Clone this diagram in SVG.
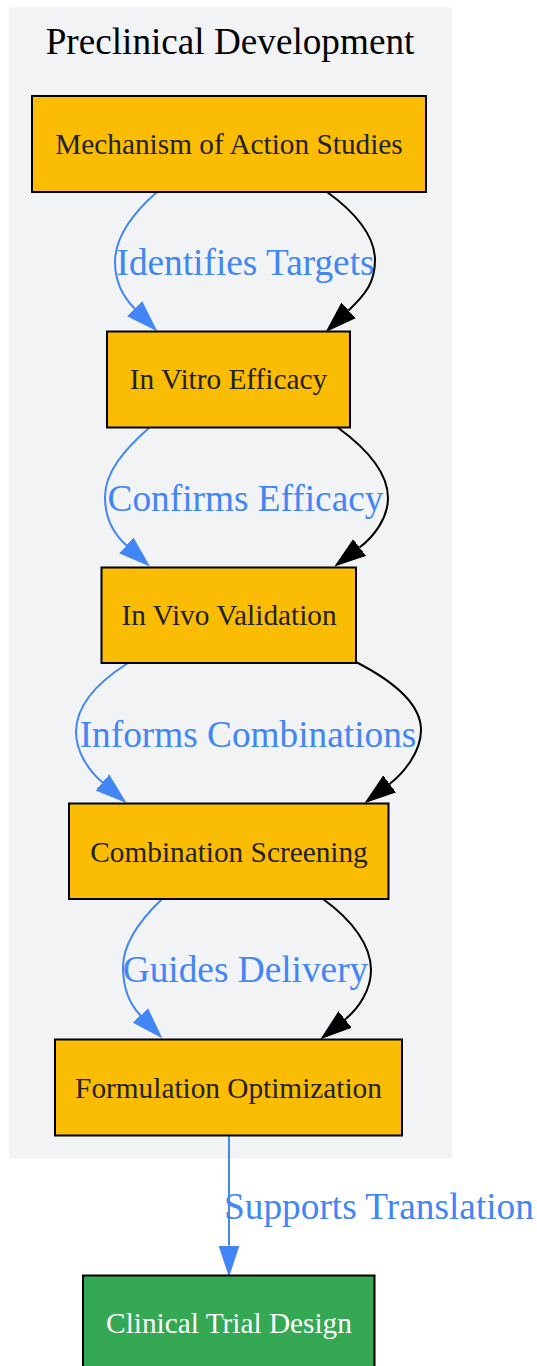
<svg xmlns="http://www.w3.org/2000/svg" width="537" height="1366" viewBox="0 0 537 1366">
<style>
.cluster{fill:#f1f3f4;stroke:none}
.title{font-family:"Liberation Serif","Times New Roman",serif;font-size:37.2px;fill:#000;text-anchor:middle}
.box{fill:#fbbc04;stroke:#000;stroke-width:2}
.green{fill:#34a853;stroke:#000;stroke-width:2}
.ntext{font-family:"Liberation Serif","Times New Roman",serif;font-size:29.3px;fill:#222;text-anchor:middle}
.wtext{font-family:"Liberation Serif","Times New Roman",serif;font-size:29.3px;fill:#fff;text-anchor:middle}
.eb{fill:none;stroke:#4285f4;stroke-width:2}
.ek{fill:none;stroke:#000;stroke-width:2}
.elabel{font-family:"Liberation Serif","Times New Roman",serif;font-size:37.3px;fill:#4285f4;text-anchor:middle}
</style>
<defs>
<marker id="ab" markerUnits="userSpaceOnUse" viewBox="0 0 32 22" markerWidth="32" markerHeight="22" refX="0" refY="11" orient="auto">
<path d="M0,1 L30,11 L0,21 z" fill="#4285f4" stroke="#4285f4" stroke-width="1"/>
</marker>
<marker id="ak" markerUnits="userSpaceOnUse" viewBox="0 0 32 22" markerWidth="32" markerHeight="22" refX="0" refY="11" orient="auto">
<path d="M0,1 L30,11 L0,21 z" fill="#000" stroke="#000" stroke-width="1"/>
</marker>
</defs>
<rect width="537" height="1366" fill="#fff"/>
<g id="cluster_preclinical">
<rect class="cluster" x="9" y="7.5" width="443" height="1151"/>
<text class="title" x="230" y="54">Preclinical Development</text>
</g>
<g id="edges">
<path class="eb" marker-end="url(#ab)" d="M157,192 C133,213 115,236 115,262 C115,284 124,298 135,309"/>
<path class="ek" marker-end="url(#ak)" d="M327,192 C355,212 375,236 375,260 C375,282 366,294 348.5,310.5"/>
<text class="elabel" x="245.5" y="274.5">Identifies Targets</text>
<path class="eb" marker-end="url(#ab)" d="M150,427 C124,450 105,472 105,497 C105,516 112,532.5 126.5,545.5"/>
<path class="ek" marker-end="url(#ak)" d="M337,427 C366,448 388,472 388,498 C388,518 374,536.5 359.5,547.5"/>
<text class="elabel" x="245.5" y="510.5">Confirms Efficacy</text>
<path class="eb" marker-end="url(#ab)" d="M128,663 C98,682 76,705 76,732 C76,752 89,771 102.5,782.5"/>
<path class="ek" marker-end="url(#ak)" d="M356,662 C395,682 421,705 421,730 C421,752 403.6,773.2 389.5,784"/>
<text class="elabel" x="248" y="746.5">Informs Combinations</text>
<path class="eb" marker-end="url(#ab)" d="M162,899 C138,922 123,945 123,967 C123,985 128.2,1002.6 140.5,1015.5"/>
<path class="ek" marker-end="url(#ak)" d="M323,899 C352,920 371,945 371,970 C371,990 358.8,1008.4 345,1019.5"/>
<text class="elabel" x="245.5" y="982">Guides Delivery</text>
<path class="eb" marker-end="url(#ab)" d="M229,1136 L229,1245.5"/>
<text class="elabel" x="379" y="1219">Supports Translation</text>
</g>
<g id="node_moa">
<rect class="box" x="32" y="96" width="394" height="96"/>
<text class="ntext" x="229" y="154">Mechanism of Action Studies</text>
</g>
<g id="node_invitro">
<rect class="box" x="107" y="331.5" width="243" height="96"/>
<text class="ntext" x="228.5" y="389">In Vitro Efficacy</text>
</g>
<g id="node_invivo">
<rect class="box" x="101.5" y="567.5" width="254.5" height="95.5"/>
<text class="ntext" x="229" y="625">In Vivo Validation</text>
</g>
<g id="node_combination">
<rect class="box" x="69" y="803.5" width="319.5" height="95.5"/>
<text class="ntext" x="229" y="862">Combination Screening</text>
</g>
<g id="node_formulation">
<rect class="box" x="55" y="1039.5" width="347" height="96"/>
<text class="ntext" x="228.5" y="1097.5">Formulation Optimization</text>
</g>
<g id="node_clinical">
<rect class="green" x="83" y="1275.5" width="291.5" height="96"/>
<text class="wtext" x="229" y="1333">Clinical Trial Design</text>
</g>
</svg>
